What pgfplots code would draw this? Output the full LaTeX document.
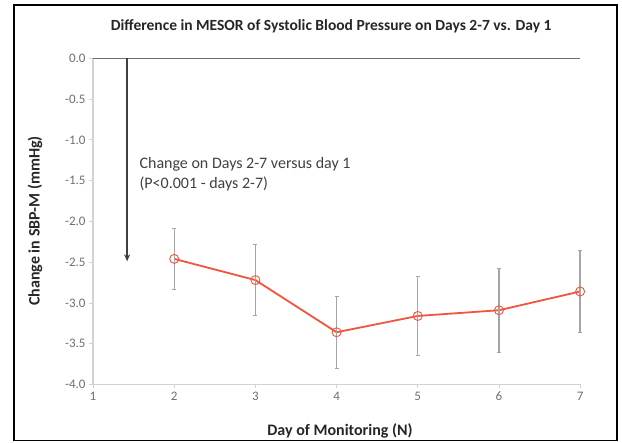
\documentclass[border=0pt]{standalone}
\usepackage{pgfplots}
\pgfplotsset{compat=1.18}
\usepackage{fontspec}
\setmainfont{Carlito}
\usetikzlibrary{arrows.meta}
\definecolor{linered}{RGB}{242,84,62}
\definecolor{errgray}{RGB}{165,165,165}
\definecolor{axgray}{RGB}{210,210,210}
\definecolor{ticklab}{RGB}{110,110,110}
\begin{document}
\begin{tikzpicture}
\begin{axis}[
  scale only axis,
  width=487pt, height=326pt,
  xmin=1, xmax=7, ymin=-4, ymax=0,
  xtick={1,2,3,4,5,6,7},
  ytick={0,-0.5,-1,-1.5,-2,-2.5,-3,-3.5,-4},
  axis lines*=left,
  axis line style={draw=axgray, line width=1.2pt},
  tick style={draw=axgray, line width=0.8pt},
  tick align=outside,
  major tick length=4pt,
  tick label style={font=\fontsize{13}{15}\selectfont, text=ticklab},
  yticklabel style={/pgf/number format/.cd, fixed, fixed zerofill, precision=1, assume math mode=true},
  xticklabel style={/pgf/number format/assume math mode=true},
  clip=false,
  title={\bfseries Difference in MESOR of Systolic Blood Pressure on Days 2-7 vs. Day 1},
  title style={at={(rel axis cs:0.489,1.079)}, anchor=center, font=\fontsize{15.5}{17}\selectfont, text=black!85},
  xlabel={\bfseries Day of Monitoring (N)},
  xlabel style={at={(rel axis cs:0.507,-0.143)}, anchor=center, font=\fontsize{16}{18}\selectfont, text=black!85},
  ylabel={\bfseries Change in SBP-M (mmHg)},
  ylabel style={at={(rel axis cs:-0.119,0.5015)}, anchor=center, rotate=0, font=\fontsize{16}{18}\selectfont, text=black!85},
]
\coordinate (bl) at (rel axis cs:-0.191,-0.179);
\coordinate (tr) at (rel axis cs:1.086,1.179);
\coordinate (fbl) at (rel axis cs:-0.162,-0.173);
\coordinate (ftr) at (rel axis cs:1.076,1.164);
\draw[color=gray!85!black, line width=1.6pt] (axis cs:1,0) -- (axis cs:7,0);
\draw[color=black!75, line width=1.4pt, -{Stealth[length=7pt,width=6pt]}] (axis cs:1.42,0) -- (axis cs:1.42,-2.49);
\node[anchor=west, align=left, font=\fontsize{16}{20}\selectfont, text=black!75] at (axis cs:1.53,-1.42) {Change on Days 2-7 versus day 1\\(P<0.001 - days 2-7)};
\addplot[
  color=linered, line width=1.8pt,
  mark=o, mark size=4.5pt, mark options={line width=0.9pt, color=linered},
  error bars/.cd, y dir=both, y explicit,
  error bar style={color=errgray, line width=1.4pt},
  error mark options={color=errgray, line width=1pt, mark size=2pt, rotate=90},
] coordinates {
  (2,-2.46) +- (0,0.375)
  (3,-2.72) +- (0,0.435)
  (4,-3.36) +- (0,0.44)
  (5,-3.16) +- (0,0.48)
  (6,-3.09) +- (0,0.515)
  (7,-2.86) +- (0,0.50)
};
\end{axis}
\pgfresetboundingbox
\path (bl) rectangle (tr);
\draw[black, line width=1.3pt] (fbl) rectangle (ftr);
\end{tikzpicture}
\end{document}
